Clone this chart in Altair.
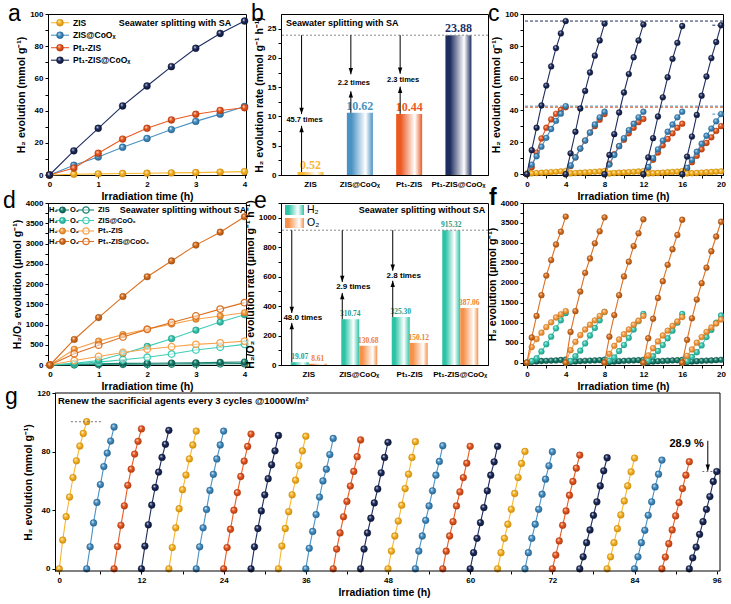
import altair as alt
import pandas as pd

FONT = "Liberation Sans"
SERIF = "Liberation Serif"

# ---------------------------------------------------------------- data
hours = [0, 0.5, 1, 1.5, 2, 2.5, 3, 3.5, 4]
catalysts = ["ZIS", "ZIS@CoOₓ", "Pt₁-ZIS", "Pt₁-ZIS@CoOₓ"]

# (a) H2 evolution with sacrificial agent (mmol/g)
a_zis = [0, 0.5, 0.7, 0.9, 1.1, 1.3, 1.5, 1.8, 2.1]
a_zis_coox = [0, 6.0, 11.2, 17.2, 22.7, 28.2, 33.3, 37.8, 42.5]
a_pt_zis = [0, 4.3, 13.5, 22.3, 29.0, 34.2, 37.7, 40.1, 41.8]
a_pt_zis_coox = [0, 15.0, 29.0, 42.9, 55.3, 67.3, 78.7, 87.9, 95.6]

# (b) H2 evolution rates (mmol/g/h)
b_rates = [0.52, 10.62, 10.44, 23.88]
b_folds = ["45.7 times", "2.2 times", "2.3 times"]

# (c) five consecutive 4-h runs
c_zis = [
    [0, 0.5, 0.7, 0.9, 1.1, 1.3, 1.5, 1.8, 2.1],
    [0, 0.5, 0.7, 0.9, 1.1, 1.3, 1.5, 1.7, 2.0],
    [0, 0.4, 0.7, 0.9, 1.1, 1.3, 1.5, 1.7, 1.9],
    [0, 0.4, 0.6, 0.8, 1.0, 1.2, 1.4, 1.6, 1.9],
    [0, 0.4, 0.6, 0.8, 1.0, 1.2, 1.4, 1.6, 1.8],
]
c_zis_coox = [
    [0, 6.0, 11.2, 17.2, 22.7, 28.2, 33.3, 37.8, 42.5],
    [0, 5.5, 10.5, 16.0, 21.0, 26.0, 31.0, 35.5, 39.0],
    [0, 6.0, 12.0, 17.5, 22.5, 27.5, 31.5, 35.5, 39.0],
    [0, 4.5, 10.0, 15.5, 21.0, 26.5, 31.0, 35.5, 39.0],
    [0, 4.0, 9.0, 14.0, 19.0, 24.0, 28.5, 33.0, 37.5],
]
c_pt_zis = [
    [0, 4.3, 13.5, 22.3, 29.0, 34.2, 37.7, 40.1, 41.8],
    [0, 5.0, 10.5, 16.0, 21.0, 26.0, 30.0, 34.0, 37.5],
    [0, 6.5, 12.5, 17.5, 21.5, 25.5, 29.0, 32.5, 34.5],
    [0, 4.0, 9.0, 13.5, 18.0, 22.0, 25.5, 29.0, 31.5],
    [0, 3.5, 7.5, 11.5, 15.5, 19.5, 23.0, 27.0, 30.0],
]
c_pt_zis_coox = [
    [0, 15.0, 29.0, 42.9, 55.3, 67.3, 78.7, 87.9, 95.6],
    [0, 13.0, 26.5, 41.0, 52.0, 63.5, 74.0, 83.5, 94.0],
    [0, 12.0, 25.0, 38.5, 51.0, 62.5, 73.0, 83.5, 93.5],
    [0, 10.5, 22.5, 36.0, 48.0, 60.5, 72.0, 82.0, 92.5],
    [0, 11.0, 23.5, 37.0, 49.0, 61.0, 72.5, 82.5, 93.0],
]

# (d) overall water splitting without SA (umol/g)
d_h2 = [
    [0, 20, 30, 40, 45, 50, 55, 65, 75],
    [0, 40, 110, 280, 460, 650, 860, 1060, 1240],
    [0, 390, 590, 750, 890, 1010, 1130, 1210, 1290],
    [0, 630, 1170, 1690, 2180, 2570, 2960, 3280, 3660],
]
d_o2 = [
    [0, 8, 12, 17, 20, 23, 27, 30, 34],
    [0, 30, 70, 130, 190, 270, 370, 440, 510],
    [0, 110, 210, 310, 390, 450, 510, 545, 590],
    [0, 280, 490, 690, 880, 1050, 1210, 1380, 1540],
]

# (e) H2 / O2 rates (umol/g/h)
e_h2 = [19.07, 310.74, 325.30, 915.32]
e_o2 = [8.61, 130.68, 150.12, 387.06]
e_folds = ["48.0 times", "2.9 times", "2.8 times"]

# (f) H2 over five runs without SA (umol/g)
f_zis = [
    [0, 20, 30, 40, 45, 50, 55, 65, 75],
    [0, 20, 30, 38, 45, 50, 55, 62, 72],
    [0, 18, 28, 36, 44, 50, 55, 62, 70],
    [0, 18, 28, 36, 42, 48, 55, 60, 68],
    [0, 18, 28, 36, 44, 50, 55, 62, 70],
]
f_zis_coox = [
    [0, 40, 110, 280, 460, 650, 860, 1060, 1240],
    [0, 40, 160, 300, 480, 680, 870, 1060, 1270],
    [0, 50, 130, 290, 440, 620, 830, 1040, 1220],
    [0, 50, 160, 290, 440, 610, 800, 1000, 1220],
    [0, 40, 140, 260, 430, 640, 820, 1000, 1180],
]
f_pt_zis = [
    [0, 390, 590, 750, 890, 1010, 1130, 1210, 1290],
    [0, 310, 520, 690, 830, 950, 1060, 1170, 1270],
    [0, 220, 420, 580, 710, 830, 950, 1050, 1170],
    [0, 180, 360, 530, 680, 800, 920, 1030, 1140],
    [0, 170, 330, 500, 640, 770, 880, 980, 1080],
]
f_pt_zis_coox = [
    [0, 630, 1170, 1690, 2180, 2570, 2960, 3280, 3660],
    [0, 770, 1290, 1780, 2250, 2610, 2990, 3290, 3640],
    [0, 650, 1190, 1690, 2160, 2530, 2920, 3240, 3590],
    [0, 610, 1100, 1620, 2040, 2450, 2840, 3200, 3580],
    [0, 570, 1110, 1580, 1990, 2380, 2790, 3160, 3530],
]

# (g) 24 consecutive 4-h runs, SA renewed every 3 runs
g_runs = [
    [0, 19.6, 35.6, 49.0, 62.3, 73.7, 83.8, 92.4, 100.4],
    [0, 15.0, 31.3, 45.3, 57.5, 69.8, 79.0, 87.2, 96.8],
    [0, 15.2, 29.7, 43.0, 57.0, 68.0, 78.3, 87.0, 95.5],
    [0, 15.5, 30.0, 43.5, 55.5, 66.0, 76.0, 85.0, 94.5],
    [0, 14.5, 28.0, 41.0, 54.0, 64.0, 75.0, 84.5, 94.0],
    [0, 15.0, 28.0, 40.5, 53.5, 64.5, 75.0, 84.5, 94.0],
    [0, 14.5, 27.0, 40.0, 52.0, 63.0, 73.5, 83.5, 92.0],
    [0, 15.0, 27.5, 39.5, 50.5, 61.5, 71.0, 80.5, 91.0],
    [0, 15.5, 27.5, 39.0, 50.5, 60.5, 70.5, 80.5, 90.5],
    [0, 14.0, 25.5, 37.0, 49.0, 60.0, 68.0, 78.0, 89.0],
    [0, 13.5, 24.5, 35.5, 46.0, 56.5, 66.5, 76.5, 88.0],
    [0, 13.5, 24.5, 34.5, 45.0, 54.5, 65.5, 76.0, 86.3],
    [0, 12.1, 22.4, 32.6, 43.4, 54.8, 64.6, 76.0, 86.8],
    [0, 12.1, 22.4, 33.1, 42.9, 53.2, 63.9, 73.3, 84.0],
    [0, 12.0, 22.4, 32.2, 42.9, 52.5, 62.3, 72.1, 83.6],
    [0, 11.0, 20.8, 31.5, 41.8, 53.2, 63.9, 73.0, 83.6],
    [0, 11.0, 20.8, 30.4, 40.6, 51.4, 62.3, 71.9, 80.1],
    [0, 11.0, 20.8, 30.4, 40.6, 50.9, 61.2, 70.3, 79.9],
    [0, 9.4, 19.0, 29.7, 39.5, 50.2, 59.6, 68.7, 77.6],
    [0, 8.2, 17.8, 26.5, 36.5, 45.7, 56.6, 66.9, 75.8],
    [0, 8.2, 17.8, 27.4, 36.8, 46.3, 56.6, 66.2, 75.6],
    [0, 8.2, 17.8, 26.3, 36.5, 45.7, 55.9, 64.6, 74.2],
    [0, 8.0, 17.1, 26.5, 36.1, 45.2, 54.8, 63.9, 73.1],
    [0, 7.5, 14.8, 23.5, 32.2, 40.6, 49.3, 59.6, 66.4],
]
g_drop_label = "28.9 %"

# ---------------------------------------------------------------- colours
YEL, YEL_E = "#F8B62D", "#C98500"
BLU, BLU_E = "#4A92C4", "#1F5E8C"
RED, RED_E = "#EB5A22", "#A8360A"
NAV, NAV_E = "#1E2D5F", "#0A1230"
TED, TED_E = "#188270", "#0A4F43"
TEA, TEA_E = "#3ECDB6", "#1C9580"
ORL, ORL_E = "#F8A24B", "#C9721A"
ORD, ORD_E = "#DC7020", "#9A4A0A"
SA_COLORS = [(YEL, YEL_E), (BLU, BLU_E), (RED, RED_E), (NAV, NAV_E)]
NOSA_COLORS = [(TED, TED_E), (TEA, TEA_E), (ORL, ORL_E), (ORD, ORD_E)]

ONE = pd.DataFrame({"k": [0]})
DOWN = "M0,0L-0.35,-1L0.35,-1Z"
UP = "M0,0L-0.35,1L0.35,1Z"


def sphere(color, edge):
    return alt.RadialGradient(
        gradient="radial", x1=0.35, y1=0.3, r1=0.0, x2=0.5, y2=0.5, r2=0.6,
        stops=[alt.GradientStop(offset=0, color="#ffffff"),
               alt.GradientStop(offset=0.38, color=color),
               alt.GradientStop(offset=1, color=edge)])


def sheen(color, white_at=0.72):
    return alt.LinearGradient(
        gradient="linear", x1=0, y1=0, x2=1, y2=0,
        stops=[alt.GradientStop(offset=0, color=color),
               alt.GradientStop(offset=0.18, color=color),
               alt.GradientStop(offset=white_at, color="#ffffff"),
               alt.GradientStop(offset=1, color=color)])


def qaxis(title, values, every, **kw):
    expr = f"abs(datum.value % {every}) < 1e-6 ? datum.label : ''"
    return alt.Axis(title=title, values=values, labelExpr=expr, format="d",
                    labelFlush=False, labelOverlap=False, **kw)


def curve(df, X, Y, color, edge, size, detail=None, hollow=False):
    base = alt.Chart(df).encode(x=X, y=Y)
    line = base.mark_line(color=color, strokeWidth=1.1)
    if detail:
        line = line.encode(detail=detail)
    if hollow:
        dots = base.mark_point(shape="circle", filled=True, fill="white", fillOpacity=0.5,
                               stroke=color, strokeWidth=1.3, size=size, opacity=1)
    else:
        dots = base.mark_circle(fill=sphere(color, edge), stroke=edge, strokeWidth=0.4,
                                size=size, opacity=1)
    return [line, dots]


def letter(ch, dx, dy, weight="normal"):
    return alt.Chart(ONE).mark_text(align="left", baseline="alphabetic", font=FONT,
                                    fontSize=23, fontWeight=weight, color="black").encode(
        x=alt.value(dx), y=alt.value(dy), text=alt.value(ch))


def note(txt, dx, dy, size=9, align="left", weight="bold"):
    return alt.Chart(ONE).mark_text(align=align, baseline="middle", font=FONT,
                                    fontSize=size, fontWeight=weight, color="black").encode(
        x=alt.value(dx), y=alt.value(dy), text=alt.value(txt))


def key_line(x0, y0, color, edge, size, hollow=False, length=18):
    rule = alt.Chart(ONE).mark_rule(color=color, strokeWidth=1.1).encode(
        x=alt.value(x0), x2=alt.value(x0 + length), y=alt.value(y0))
    if hollow:
        dot = alt.Chart(ONE).mark_point(shape="circle", filled=True, fill="white", fillOpacity=0.5,
                                        stroke=color, strokeWidth=1.3, size=size, opacity=1)
    else:
        dot = alt.Chart(ONE).mark_circle(fill=sphere(color, edge), stroke=edge, strokeWidth=0.4,
                                         size=size, opacity=1)
    dot = dot.encode(x=alt.value(x0 + length / 2), y=alt.value(y0))
    return [rule, dot]


def frame_rule(x1, x2, y1, y2):
    return alt.Chart(ONE).mark_rule(color="black", strokeWidth=1).encode(
        x=alt.value(x1), x2=alt.value(x2), y=alt.value(y1), y2=alt.value(y2))


def runs_frame(runs, period=4):
    rows = []
    for k, run in enumerate(runs):
        for h, v in zip(hours, run):
            rows.append({"t": period * k + h, "v": v, "run": k})
    return pd.DataFrame(rows)


def fold_arrows(X, Yf, cats, top, bases, marks, labels, off, toff, fs):
    df = pd.DataFrame({
        "cat": cats, "top": [top] * len(cats), "base": bases,
        "tdown": [m[0] for m in marks], "ly": [m[1] for m in marks], "tup": [m[2] for m in marks],
        "lab": labels})
    b = alt.Chart(df)
    return [
        b.mark_rule(color="black", strokeWidth=1, xOffset=off).encode(x=X, y=Yf("top:Q"), y2="tdown:Q"),
        b.mark_rule(color="black", strokeWidth=1, xOffset=off).encode(x=X, y=Yf("tup:Q"), y2="base:Q"),
        b.mark_point(shape=DOWN, filled=True, color="black", size=160, opacity=1, xOffset=off).encode(x=X, y=Yf("tdown:Q")),
        b.mark_point(shape=UP, filled=True, color="black", size=160, opacity=1, xOffset=off).encode(x=X, y=Yf("tup:Q")),
        b.mark_text(font=FONT, fontWeight="bold", fontSize=fs, color="black", xOffset=toff).encode(
            x=X, y=Yf("ly:Q"), text="lab:N"),
    ]


# ---------------------------------------------------------------- (a)
ax_x = alt.X("t:Q", scale=alt.Scale(domain=[-0.03, 4.03], nice=False, zero=False),
             axis=qaxis("Irradiation time (h)", hours, 1))
ax_y = alt.Y("v:Q", scale=alt.Scale(domain=[0, 100], nice=False),
             axis=qaxis("H₂ evolution (mmol g⁻¹)", list(range(0, 101, 10)), 20))
a_layers = []
for vals, (c, e) in zip([a_zis, a_zis_coox, a_pt_zis, a_pt_zis_coox], SA_COLORS):
    a_layers += curve(pd.DataFrame({"t": hours, "v": vals}), ax_x, ax_y, c, e, 48)
for i, (name, (c, e)) in enumerate(zip(catalysts, SA_COLORS)):
    yy = 8.7 + 12.5 * i
    a_layers += key_line(3, yy, c, e, 48)
    a_layers.append(note(name, 25, yy, size=8.5))
a_layers.append(note("Seawater splitting with SA", 127, 8.7, size=9, align="center"))
a_layers.append(letter("a", -40, 6.7))
chart_a = alt.layer(*a_layers).properties(width=198, height=161)

# ---------------------------------------------------------------- (b)
bx = alt.X("cat:N", sort=catalysts,
           scale=alt.Scale(domain=catalysts, paddingInner=0.4, paddingOuter=0.3),
           axis=alt.Axis(title=None, labelAngle=0, ticks=False, labelPadding=5, labelFontSize=8))


def by(field):
    return alt.Y(field, scale=alt.Scale(domain=[0, 27.5], nice=False),
                 axis=qaxis("H₂ evolution rate (mmol g⁻¹ h⁻¹)", [v / 2 for v in range(0, 51, 5)], 5))


df_b = pd.DataFrame({"cat": catalysts, "v": b_rates})
b_layers = []
for i, (c, e) in enumerate(SA_COLORS):
    b_layers.append(alt.Chart(df_b.iloc[[i]]).mark_bar(size=26, fill=sheen(c)).encode(x=bx, y=by("v:Q")))
b_layers.append(alt.Chart(pd.DataFrame({"v": [b_rates[3]]})).mark_rule(
    color="#8a8a8a", strokeDash=[2, 2], strokeWidth=1).encode(y=by("v:Q")))
b_layers.append(alt.Chart(df_b).mark_text(font=SERIF, fontWeight="bold", fontSize=12,
                                          baseline="bottom", dy=0).encode(
    x=bx, y=by("v:Q"), text=alt.Text("v:Q", format=".2f"),
    color=alt.Color("cat:N", scale=alt.Scale(domain=catalysts, range=[YEL, BLU, RED, NAV]), legend=None)))
b_layers += fold_arrows(bx, by, catalysts[:3], b_rates[3], b_rates[:3],
                        [(10.4, 9.4, 8.4), (17.2, 15.7, 14.3), (17.3, 16.2, 15.1)],
                        b_folds, -9, -6, 7.5)
b_layers.append(note("Seawater splitting with SA", 5, 9.3, size=9))
b_layers.append(letter("b", -30, 6.7))
chart_b = alt.layer(*b_layers).properties(width=207, height=161)

# ---------------------------------------------------------------- (c)
cx = alt.X("t:Q", scale=alt.Scale(domain=[-0.4, 20.2], nice=False, zero=False),
           axis=qaxis("Irradiation time (h)", list(range(0, 21, 2)), 4))
cy = alt.Y("v:Q", scale=alt.Scale(domain=[-0.5, 100], nice=False),
           axis=qaxis("H₂ evolution (mmol g⁻¹)", list(range(0, 101, 10)), 20))
c_sets = [c_zis, c_zis_coox, c_pt_zis, c_pt_zis_coox]
c_layers = []
for runs, (c, e) in zip(c_sets, SA_COLORS):
    c_layers.append(alt.Chart(pd.DataFrame({"v": [runs[0][-1]]})).mark_rule(
        color=c, strokeDash=[3, 2], strokeWidth=1).encode(y=cy))
for runs, (c, e) in zip([c_pt_zis, c_zis_coox, c_zis, c_pt_zis_coox], [SA_COLORS[2], SA_COLORS[1], SA_COLORS[0], SA_COLORS[3]]):
    c_layers += curve(runs_frame(runs), cx, cy, c, e, 34, detail="run:N")
for runs, (c, e) in [(c_pt_zis_coox, SA_COLORS[3]), (c_zis_coox, SA_COLORS[1])]:
    c_layers.append(alt.Chart(pd.DataFrame({"t": [19.1], "t2": [20.0], "v": [runs[-1][-1]]})).mark_rule(
        color=c, strokeDash=[3, 2], strokeWidth=1).encode(x=cx, x2="t2:Q", y=cy))
c_layers.append(letter("c", -35, 6.7))
chart_c = alt.layer(*c_layers).properties(width=200, height=161)

# ---------------------------------------------------------------- (d)
dx_ = alt.X("t:Q", scale=alt.Scale(domain=[-0.04, 4.03], nice=False, zero=False),
            axis=qaxis("Irradiation time (h)", hours, 1))
dy_ = alt.Y("v:Q", scale=alt.Scale(domain=[0, 4000], nice=False),
            axis=qaxis("H₂/O₂ evolution (μmol g⁻¹)", list(range(0, 4001, 250)), 500))
d_layers = []
for h2, o2, (c, e) in zip(d_h2, d_o2, NOSA_COLORS):
    d_layers += curve(pd.DataFrame({"t": hours, "v": o2}), dx_, dy_, c, e, 44, hollow=True)
    d_layers += curve(pd.DataFrame({"t": hours, "v": h2}), dx_, dy_, c, e, 44)
for i, (name, (c, e)) in enumerate(zip(catalysts, NOSA_COLORS)):
    yy = 7 + 10.5 * i
    d_layers.append(note("H₂", 1, yy, size=7.5))
    d_layers += key_line(8, yy, c, e, 40, length=13)
    d_layers.append(note("O₂", 22, yy, size=7.5))
    d_layers += key_line(30, yy, c, e, 40, hollow=True, length=16)
    d_layers.append(note(name, 50, yy, size=7.5))
d_layers.append(note("Seawater splitting without SA", 135, 7, size=9, align="center"))
d_layers.append(letter("d", -45, 5))
chart_d = alt.layer(*d_layers).properties(width=198, height=162)

# ---------------------------------------------------------------- (e)
ex = alt.X("cat:N", sort=catalysts,
           scale=alt.Scale(domain=catalysts, paddingInner=0.4, paddingOuter=0.25),
           axis=alt.Axis(title=None, labelAngle=0, ticks=False, labelPadding=5, labelFontSize=8))


def ey(field):
    return alt.Y(field, scale=alt.Scale(domain=[0, 1100], nice=False),
                 axis=qaxis("H₂/O₂ evolution rate (μmol g⁻¹ h⁻¹)", list(range(0, 1101, 100)), 200))


df_e = pd.DataFrame({"cat": catalysts, "h2": e_h2, "o2": e_o2})
e_layers = [
    alt.Chart(df_e).mark_bar(size=18, xOffset=-9, fill=sheen("#2CC3A6", 0.68)).encode(x=ex, y=ey("h2:Q")),
    alt.Chart(df_e).mark_bar(size=18, xOffset=9, fill=sheen("#F7914A", 0.75)).encode(x=ex, y=ey("o2:Q")),
    alt.Chart(pd.DataFrame({"v": [e_h2[3]]})).mark_rule(
        color="#8a8a8a", strokeDash=[2, 2], strokeWidth=1).encode(y=ey("v:Q")),
    alt.Chart(df_e).mark_text(font=SERIF, fontWeight="bold", fontSize=7.5, baseline="bottom",
                              xOffset=-9, dy=-1, color="#1F9C87").encode(
        x=ex, y=ey("h2:Q"), text=alt.Text("h2:Q", format=".2f")),
    alt.Chart(df_e).mark_text(font=SERIF, fontWeight="bold", fontSize=7.5, baseline="bottom",
                              xOffset=9, dy=-1, color="#F07F2A").encode(
        x=ex, y=ey("o2:Q"), text=alt.Text("o2:Q", format=".2f")),
]
e_layers += fold_arrows(ex, ey, catalysts[:3], e_h2[3], e_h2[:3],
                        [(353, 320, 286), (563, 527, 489), (640, 606, 572)],
                        e_folds, -17, -6, 8)
e_layers.append(alt.Chart(ONE).mark_rect(fill=sheen("#2CC3A6", 0.68)).encode(
    x=alt.value(4), x2=alt.value(23), y=alt.value(2), y2=alt.value(12)))
e_layers.append(alt.Chart(ONE).mark_rect(fill=sheen("#F7914A", 0.75)).encode(
    x=alt.value(4), x2=alt.value(23), y=alt.value(15), y2=alt.value(25)))
e_layers.append(note("H₂", 26, 7, size=10.5, weight="normal"))
e_layers.append(note("O₂", 26, 20, size=10.5, weight="normal"))
e_layers.append(note("Seawater splitting without SA", 141, 7, size=9, align="center"))
e_layers.append(letter("e", -27, 5))
chart_e = alt.layer(*e_layers).properties(width=207, height=162)

# ---------------------------------------------------------------- (f)
fx = alt.X("t:Q", scale=alt.Scale(domain=[-0.4, 20.2], nice=False, zero=False),
           axis=qaxis("Irradiation time (h)", list(range(0, 21, 2)), 4))
fy = alt.Y("v:Q", scale=alt.Scale(domain=[-60, 4000], nice=False),
           axis=qaxis("H₂ evolution (μmol g⁻¹)", list(range(0, 4001, 250)), 500))
f_layers = []
for runs, (c, e) in zip([f_zis, f_zis_coox, f_pt_zis, f_pt_zis_coox], NOSA_COLORS):
    f_layers += curve(runs_frame(runs), fx, fy, c, e, 34, detail="run:N")
f_layers.append(letter("f", -34, 2, weight="bold"))
chart_f = alt.layer(*f_layers).properties(width=200, height=162)

# ---------------------------------------------------------------- (g)
# The grid cell is only as wide as panel a; the x scale range carries the
# long time axis across the full row, and the y axis is pulled in by G_IN.
G_CELL, G_W, G_H, G_IN = 198, 672, 178, 7
gx = alt.X("t:Q", scale=alt.Scale(domain=[-1.65, 96.48], range=[0, G_W], nice=False, zero=False),
           axis=qaxis("Irradiation time (h)", list(range(0, 97, 6)), 12, domain=False))
gy = alt.Y("v:Q", scale=alt.Scale(domain=[-1.5, 120], nice=False),
           axis=qaxis("H₂ evolution (mmol g⁻¹)", list(range(0, 121, 10)), 20, offset=-G_IN))
g_df = runs_frame(g_runs)
g_layers = []
for k, (c, e) in enumerate(SA_COLORS):
    sub = g_df[g_df["run"] % 4 == k]
    g_layers += curve(sub, gx, gy, c, e, 46, detail="run:N")
g_layers.append(alt.Chart(pd.DataFrame({"t": [1.7], "t2": [6.1], "v": [g_runs[0][-1]]})).mark_rule(
    color="#777777", strokeDash=[2, 2], strokeWidth=1).encode(x=gx, x2="t2:Q", y=gy))
g_layers.append(alt.Chart(pd.DataFrame({"t": [93.9], "t2": [95.5], "v": [g_runs[-1][-1]]})).mark_rule(
    color="#777777", strokeDash=[2, 2], strokeWidth=1).encode(x=gx, x2="t2:Q", y=gy))
g_arrow = pd.DataFrame({"t": [94.7], "v": [87.4], "v2": [g_runs[-1][-1] + 0.5]})
g_layers.append(alt.Chart(g_arrow).mark_rule(color="black", strokeWidth=1).encode(x=gx, y=gy, y2="v2:Q"))
g_layers.append(alt.Chart(g_arrow).mark_point(shape=DOWN, filled=True, color="black", size=160, opacity=1).encode(
    x=gx, y=alt.Y("v2:Q", scale=alt.Scale(domain=[-1.5, 120], nice=False))))
g_layers.append(alt.Chart(pd.DataFrame({"t": [94.1], "v": [85.1], "s": [g_drop_label]})).mark_text(
    font=FONT, fontWeight="bold", fontSize=11, align="right", baseline="middle").encode(x=gx, y=gy, text="s:N"))
g_layers.append(frame_rule(G_IN, G_W, 0, 0))
g_layers.append(frame_rule(G_IN, G_W, G_H, G_H))
g_layers.append(frame_rule(G_W, G_W, 0, G_H))
g_layers.append(note("Renew the sacrificial agents every 3 cycles @1000W/m²", G_IN + 3, 8, size=9.5))
g_layers.append(letter("g", -43, 11))
chart_g = alt.layer(*g_layers).properties(width=G_CELL, height=G_H,
                                          view=alt.ViewBackground(stroke="transparent"))

chart = alt.concat(
    chart_a, chart_b, chart_c, chart_d, chart_e, chart_f, chart_g,
    columns=3, spacing={"row": 28, "column": 35}, bounds="flush", align="none",
).properties(
    padding={"left": 2, "top": 2, "right": 2, "bottom": 2}, background="white"
).configure_axis(
    labelFont=FONT, labelFontWeight="bold", labelFontSize=8, labelColor="black",
    titleFont=FONT, titleFontWeight="bold", titleFontSize=10.5, titleColor="black",
    domainColor="black", tickColor="black", tickSize=3, grid=False,
    labelPadding=2, titlePadding=3,
).configure_view(stroke="black", strokeWidth=1)

chart.save("out.html", embed_options={"renderer": "svg", "actions": False})
